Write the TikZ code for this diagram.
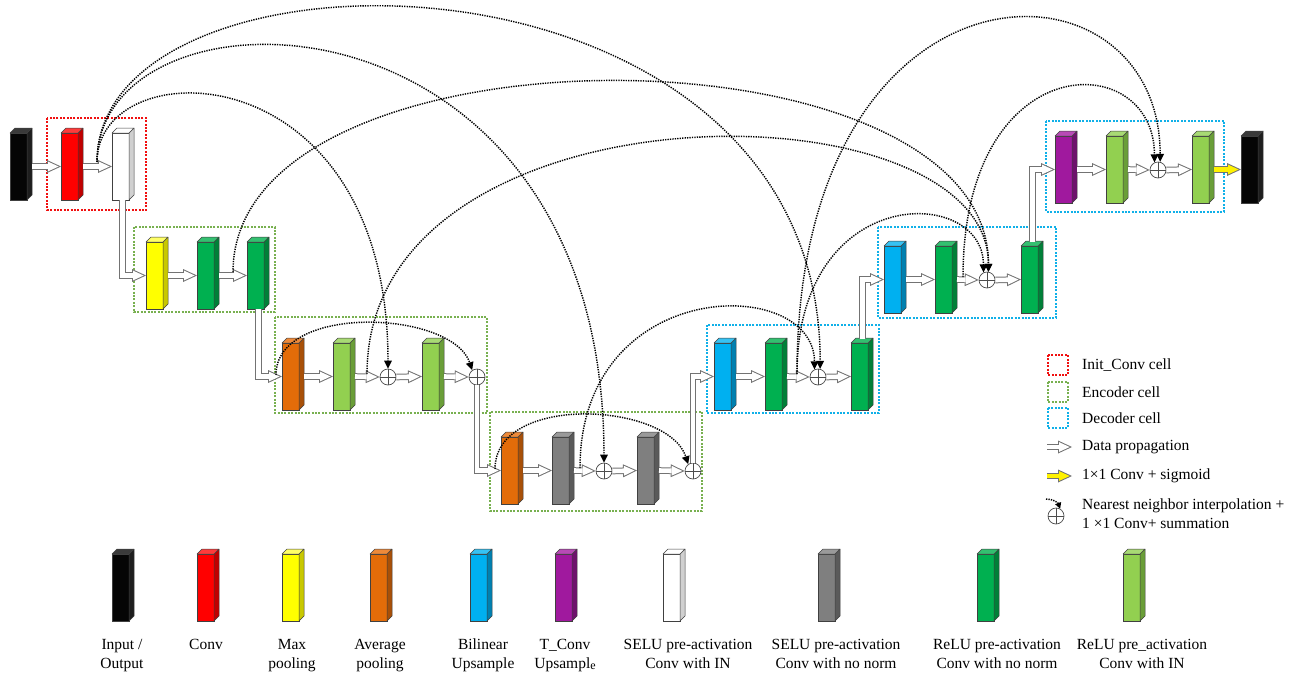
\documentclass[tikz,border=0pt]{standalone}
\usepackage{fontspec}
\setmainfont{Liberation Serif}
\usetikzlibrary{arrows.meta,calc}
\definecolor{kF}{HTML}{050505}\definecolor{kS}{HTML}{1E1E1E}\definecolor{kT}{HTML}{3A3A3A}
\definecolor{rF}{HTML}{FF0000}\definecolor{rS}{HTML}{C00000}\definecolor{rT}{HTML}{FF3B3B}
\definecolor{yF}{HTML}{FFFF00}\definecolor{yS}{HTML}{C8C800}\definecolor{yT}{HTML}{FFFF66}
\definecolor{oF}{HTML}{E36C09}\definecolor{oS}{HTML}{A85008}\definecolor{oT}{HTML}{EE8A3A}
\definecolor{bF}{HTML}{00B0F0}\definecolor{bS}{HTML}{0080B0}\definecolor{bT}{HTML}{36C2F3}
\definecolor{pF}{HTML}{A0199E}\definecolor{pS}{HTML}{6E116C}\definecolor{pT}{HTML}{B84AB6}
\definecolor{wF}{HTML}{FFFFFF}\definecolor{wS}{HTML}{D0D0D0}\definecolor{wT}{HTML}{FFFFFF}
\definecolor{gF}{HTML}{7F7F7F}\definecolor{gS}{HTML}{5A5A5A}\definecolor{gT}{HTML}{9A9A9A}
\definecolor{nF}{HTML}{00B050}\definecolor{nS}{HTML}{008038}\definecolor{nT}{HTML}{33C070}
\definecolor{lF}{HTML}{92D050}\definecolor{lS}{HTML}{6A9E38}\definecolor{lT}{HTML}{A8DA74}
\definecolor{cellR}{HTML}{F01010}\definecolor{cellG}{HTML}{78B050}\definecolor{cellB}{HTML}{10B0E8}
\definecolor{yarrow}{HTML}{FFF200}
\newcommand\blockbar[6]{%
  \node[bar, fill=#4] (#1) at (#2,#3) {};
  \filldraw[barline, fill=#5] (#1.north east) -- ++(5,-5) -- ++(0,67) -- ++(-5,5) -- cycle;
  \filldraw[barline, fill=#6] (#1.north west) -- ++(5,-5) -- ++(17,0) -- ++(-5,5) -- cycle;
}
\begin{document}
\begin{tikzpicture}[x=1pt,y=-1pt,
  font=\fontsize{15.5}{19}\selectfont,
  bar/.style={draw=black!75, line width=0.5pt, minimum width=17pt, minimum height=67pt, inner sep=0pt, outer sep=0pt, anchor=north west},
  barline/.style={draw=black!75, line width=0.5pt, line join=round},
  flow/.style={draw=black!55, line width=6.6pt, line join=miter,
    -{Triangle[length=14pt,width=13pt,line width=0pt]},
    postaction={draw=#1, line width=4.6pt, line join=miter,
      -{Triangle[length=10.6pt,width=9.8pt,line width=0pt]}, shorten >=2.4pt}},
  flow/.default=white,
  skip/.style={black, line width=1.45pt, dash pattern=on 1.3pt off 1.15pt, -{Triangle[length=8pt,width=7.5pt]}},
  sum/.style={circle, draw=black!70, line width=0.7pt, fill=white, minimum size=16pt, inner sep=0pt,
    path picture={\draw[black!70, line width=0.7pt] (path picture bounding box.north) -- (path picture bounding box.south) (path picture bounding box.west) -- (path picture bounding box.east);}},
  cell/.style={line width=2pt, dash pattern=on 2pt off 1.4pt},
  lab/.style={align=center, anchor=north, inner sep=0pt},
  leg/.style={anchor=west, inner sep=0pt}
]
\useasboundingbox (0,0) rectangle (1297,672);
% cells
\draw[cell, cellR] (47,118) rectangle (146,210);
\draw[cell, cellG] (134,227) rectangle (275,312);
\draw[cell, cellG] (275,317) rectangle (487,413);
\draw[cell, cellG] (490,412) rectangle (702,511);
\draw[cell, cellB] (707,325) rectangle (879,413);
\draw[cell, cellB] (878,227) rectangle (1056,318);
\draw[cell, cellB] (1046,121) rectangle (1224,212);
% row 1
\blockbar{in}{10}{133}{kF}{kS}{kT}
\blockbar{conv0}{61}{133}{rF}{rS}{rT}
\blockbar{selu0}{112}{133}{wF}{wS}{wT}
% row 2
\blockbar{mp1}{146}{242}{yF}{yS}{yT}
\blockbar{r1a}{197}{242}{nF}{nS}{nT}
\blockbar{r1b}{247}{242}{nF}{nS}{nT}
% row 3
\blockbar{ap2}{282}{343}{oF}{oS}{oT}
\blockbar{c2a}{333}{343}{lF}{lS}{lT}
\node[sum] (s2a) at (388,377) {};
\blockbar{c2b}{422}{343}{lF}{lS}{lT}
\node[sum] (s2b) at (477,377) {};
% row 4
\blockbar{ap3}{501}{437}{oF}{oS}{oT}
\blockbar{c3a}{552}{437}{gF}{gS}{gT}
\node[sum] (s3a) at (604,471) {};
\blockbar{c3b}{637}{437}{gF}{gS}{gT}
\node[sum] (s3b) at (693,471) {};
% decoder 1
\blockbar{up1}{714}{343}{bF}{bS}{bT}
\blockbar{d1a}{765}{343}{nF}{nS}{nT}
\node[sum] (s4) at (818,377) {};
\blockbar{d1b}{851}{343}{nF}{nS}{nT}
% decoder 2
\blockbar{up2}{884}{246}{bF}{bS}{bT}
\blockbar{d2a}{935}{246}{nF}{nS}{nT}
\node[sum] (s5) at (987,280) {};
\blockbar{d2b}{1021}{246}{nF}{nS}{nT}
% decoder 3
\blockbar{tc}{1055}{136}{pF}{pS}{pT}
\blockbar{d3a}{1106}{136}{lF}{lS}{lT}
\node[sum] (s6) at (1158,170) {};
\blockbar{d3b}{1192}{136}{lF}{lS}{lT}
\blockbar{out}{1241}{136}{kF}{kS}{kT}
% data propagation
\draw[flow] ([xshift=5pt]in.east) -- (conv0.west);
\draw[flow] ([xshift=5pt]conv0.east) -- (selu0.west);
\draw[flow] ([xshift=2pt]selu0.south) |- (mp1.west);
\draw[flow] ([xshift=5pt]mp1.east) -- (r1a.west);
\draw[flow] ([xshift=5pt]r1a.east) -- (r1b.west);
\draw[flow] ([xshift=3pt]r1b.south) |- (ap2.west);
\draw[flow] ([xshift=5pt]ap2.east) -- (c2a.west);
\draw[flow] ([xshift=5pt]c2a.east) -- (s2a.west);
\draw[flow] (s2a.east) -- (c2b.west);
\draw[flow] ([xshift=5pt]c2b.east) -- (s2b.west);
\draw[flow] (s2b.south) |- (ap3.west);
\draw[flow] ([xshift=5pt]ap3.east) -- (c3a.west);
\draw[flow] ([xshift=5pt]c3a.east) -- (s3a.west);
\draw[flow] (s3a.east) -- (c3b.west);
\draw[flow] ([xshift=5pt]c3b.east) -- (s3b.west);
\draw[flow] (s3b.north) |- (up1.west);
\draw[flow] ([xshift=5pt]up1.east) -- (d1a.west);
\draw[flow] ([xshift=5pt]d1a.east) -- (s4.west);
\draw[flow] (s4.east) -- (d1b.west);
\draw[flow] ([xshift=3pt,yshift=4pt]d1b.north) |- (up2.west);
\draw[flow] ([xshift=5pt]up2.east) -- (d2a.west);
\draw[flow] ([xshift=5pt]d2a.east) -- (s5.west);
\draw[flow] (s5.east) -- (d2b.west);
\draw[flow] ([xshift=3pt,yshift=4pt]d2b.north) |- (tc.west);
\draw[flow] ([xshift=5pt]tc.east) -- (d3a.west);
\draw[flow] ([xshift=5pt]d3a.east) -- (s6.west);
\draw[flow] (s6.east) -- (d3b.west);
\draw[flow=yarrow] ([xshift=5pt]d3b.east) -- (out.west);
% skip sources
\coordinate (k0) at (97,162);
\coordinate (k1) at (233,272);
\coordinate (k2) at (367,374);
\coordinate (k3) at (580,468);
\coordinate (k4) at (797,374);
\coordinate (k5) at (963,277);
\coordinate (l3) at (276,375);
\coordinate (l4) at (495,469);
% skip connections
\draw[skip] (k0) .. controls +(0,-113) and +(0,-320) .. (s2a.north);
\draw[skip] (k0) .. controls +(0,-189) and +(0,-490) .. (s3a.north);
\draw[skip] (k0) .. controls +(0,-234) and +(0,-441) .. (s4.75);
\draw[skip] (k3) .. controls +(0,-193) and +(0,-95) .. (s4.115);
\draw[skip] (k1) .. controls +(0,-255) and +(0,-253) .. (s5.80);
\draw[skip] (k2) .. controls +(0,-297) and +(0,-192) .. (s5.80);
\draw[skip] (k4) .. controls +(0,-192) and +(0,-87) .. (s5.115);
\draw[skip] (k4) .. controls +(0,-431) and +(0,-218) .. (s6.75);
\draw[skip] (k5) .. controls +(0,-232) and +(0,-115) .. (s6.115);
\draw[skip] (l3) .. controls +(0,-72) and +(-20,-60) .. (s2b.125);
\draw[skip] (l4) .. controls +(0,-76) and +(-20,-62) .. (s3b.125);
% legend (right)
\draw[cell, cellR] (1048,355) rectangle (1068,375);
\draw[cell, cellG] (1048,382) rectangle (1068,402);
\draw[cell, cellB] (1048,408) rectangle (1068,428);
\node[leg] (t1) at (1082,365) {Init\_Conv cell};
\node[leg] (t2) at (1082,392) {Encoder cell};
\node[leg] (t3) at (1082,418) {Decoder cell};
\node[leg] (t4) at (1082,447) {Data propagation};
\node[leg] (t5) at (1082,476) {1×1 Conv + sigmoid};
\node[leg, align=left] (t6) at (1082,514) {Nearest neighbor interpolation +\\1 ×1 Conv+ summation};
\draw[flow] ([xshift=-35pt]t4.west) -- ([xshift=-10pt]t4.west);
\draw[flow=yarrow] ([xshift=-35pt]t5.west) -- ([xshift=-10pt]t5.west);
\node[sum] (ls) at (1056,516) {};
\coordinate (lk) at (1046,499);
\draw[skip, -{Triangle[length=6pt,width=6pt]}] (lk) to[out=0,in=110] (ls.60);
% legend (bottom)
\blockbar{b1}{112}{554}{kF}{kS}{kT}
\blockbar{b2}{197}{554}{rF}{rS}{rT}
\blockbar{b3}{282}{554}{yF}{yS}{yT}
\blockbar{b4}{370}{554}{oF}{oS}{oT}
\blockbar{b5}{470}{554}{bF}{bS}{bT}
\blockbar{b6}{555}{554}{pF}{pS}{pT}
\blockbar{b7}{663}{554}{wF}{wS}{wT}
\blockbar{b8}{818}{554}{gF}{gS}{gT}
\blockbar{b9}{977}{554}{nF}{nS}{nT}
\blockbar{b10}{1123}{554}{lF}{lS}{lT}
\node[lab] (q1) at (122,639) {Input /\\Output};
\node[lab] (q2) at (206,639) {Conv};
\node[lab] (q3) at (292,639) {Max\\pooling};
\node[lab] (q4) at (380,639) {Average\\pooling};
\node[lab] (q5) at (483,639) {Bilinear\\Upsample};
\node[lab] (q6) at (565,639) {T\_Conv\\Upsampl\raisebox{-1.5pt}{\fontsize{12}{12}\selectfont e}};
\node[lab] (q7) at (688,639) {SELU pre-activation\\Conv with IN};
\node[lab] (q8) at (836,639) {SELU pre-activation\\Conv with no norm};
\node[lab] (q9) at (997,639) {ReLU pre-activation\\Conv with no norm};
\node[lab] (q10) at (1142,639) {ReLU pre\_activation\\Conv with IN};
\end{tikzpicture}
\end{document}
